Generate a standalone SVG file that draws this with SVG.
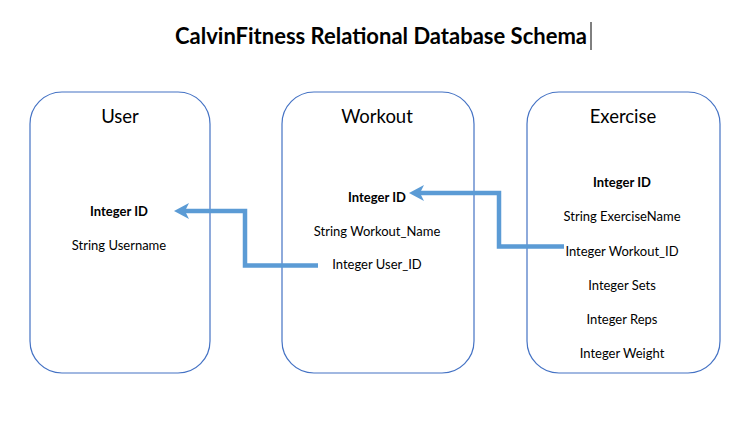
<svg xmlns="http://www.w3.org/2000/svg" width="756" height="435" viewBox="0 0 756 435">
<style>
.box{fill:#fff;stroke:#4472C4;stroke-width:1.2}
.t{font-family:Lato,"Open Sans","Liberation Sans",sans-serif;fill:#000;text-anchor:middle}
.title{font-size:22px;font-weight:bold}
.head{font-size:18.5px}
.attr{font-size:13px}
.pk{font-weight:bold}
.conn{fill:none;stroke:#5B9BD5;stroke-width:4.5;stroke-linejoin:miter}
</style>
<defs>
<marker id="arr" markerUnits="userSpaceOnUse" markerWidth="20" markerHeight="20" refX="4" refY="10" orient="auto" viewBox="0 0 20 20">
<path d="M15,10 L0,2 L4,10 L0,18 Z" fill="#5B9BD5"/>
</marker>
</defs>
<rect width="756" height="435" fill="#fff"/>
<text class="t title" x="381" y="44" textLength="412">CalvinFitness Relational Database Schema</text>
<line x1="591" y1="22" x2="591" y2="50" stroke="#000" stroke-width="1"/>
<g id="user">
<rect class="box" x="30" y="92" width="180" height="281" rx="32"/>
<text class="t head" x="120" y="123">User</text>
<text class="t attr pk" x="119" y="216">Integer ID</text>
<text class="t attr" x="119" y="250">String Username</text>
</g>
<g id="workout">
<rect class="box" x="282" y="92" width="192" height="281" rx="32"/>
<text class="t head" x="377" y="123">Workout</text>
<text class="t attr pk" x="377" y="202">Integer ID</text>
<text class="t attr" x="377" y="236">String Workout_Name</text>
<text class="t attr" x="377" y="269">Integer User_ID</text>
</g>
<g id="exercise">
<rect class="box" x="527" y="92" width="193" height="281" rx="32"/>
<text class="t head" x="623" y="123">Exercise</text>
<text class="t attr pk" x="622" y="187">Integer ID</text>
<text class="t attr" x="622" y="221">String ExerciseName</text>
<text class="t attr" x="622" y="256">Integer Workout_ID</text>
<text class="t attr" x="622" y="290">Integer Sets</text>
<text class="t attr" x="622" y="324">Integer Reps</text>
<text class="t attr" x="622" y="358">Integer Weight</text>
</g>
<g id="connectors">
<path class="conn" d="M318,265.5 H245 V211 H185" marker-end="url(#arr)"/>
<path class="conn" d="M564,246.5 H499 V193 H420" marker-end="url(#arr)"/>
</g>
</svg>
